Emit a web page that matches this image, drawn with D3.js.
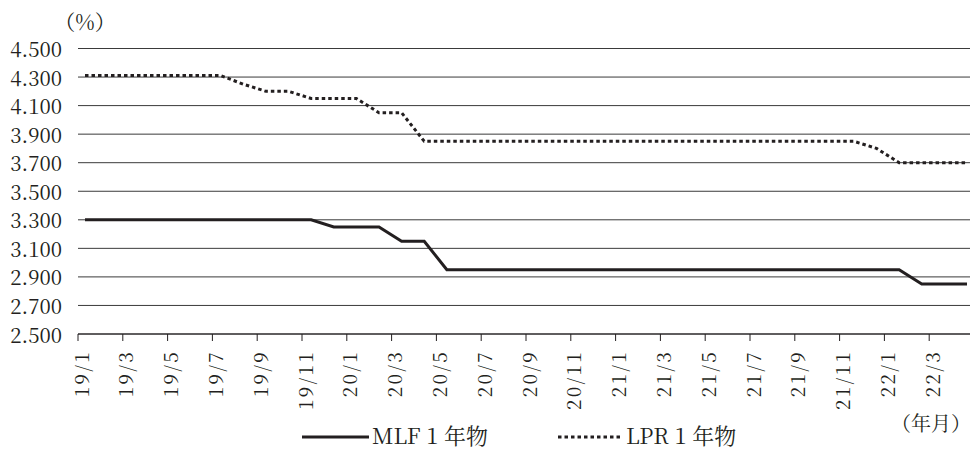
<!DOCTYPE html>
<html>
<head>
<meta charset="utf-8">
<script src="https://cdn.jsdelivr.net/npm/d3@7/dist/d3.min.js"></script>
<style>
  html, body { margin: 0; padding: 0; background: #fff; }
  svg { display: block; }
</style>
</head>
<body>
<svg id="chart" width="970" height="449"></svg>
<script>
// Monthly categories, January 2019 to April 2022
const months = [
  "19/1","19/2","19/3","19/4","19/5","19/6","19/7","19/8","19/9","19/10","19/11","19/12",
  "20/1","20/2","20/3","20/4","20/5","20/6","20/7","20/8","20/9","20/10","20/11","20/12",
  "21/1","21/2","21/3","21/4","21/5","21/6","21/7","21/8","21/9","21/10","21/11","21/12",
  "22/1","22/2","22/3","22/4"
];

// MLF 1-year rate (%)
const mlf = [
  3.30,3.30,3.30,3.30,3.30,3.30,3.30,3.30,3.30,3.30,3.30,3.25,
  3.25,3.25,3.15,3.15,2.95,2.95,2.95,2.95,2.95,2.95,2.95,2.95,
  2.95,2.95,2.95,2.95,2.95,2.95,2.95,2.95,2.95,2.95,2.95,2.95,
  2.95,2.85,2.85,2.85
];

// LPR 1-year rate (%)
const lpr = [
  4.31,4.31,4.31,4.31,4.31,4.31,4.31,4.25,4.20,4.20,4.15,4.15,
  4.15,4.05,4.05,3.85,3.85,3.85,3.85,3.85,3.85,3.85,3.85,3.85,
  3.85,3.85,3.85,3.85,3.85,3.85,3.85,3.85,3.85,3.85,3.85,3.80,
  3.70,3.70,3.70,3.70
];

// Labelled months on the x axis
const tickLabels = ["19/1","19/3","19/5","19/7","19/9","19/11","20/1","20/3","20/5","20/7",
  "20/9","20/11","21/1","21/3","21/5","21/7","21/9","21/11","22/1","22/3"];

// y axis ticks
const yTicks = [2.5,2.7,2.9,3.1,3.3,3.5,3.7,3.9,4.1,4.3,4.5];

const FONT = '"Noto Serif CJK JP", "Liberation Serif", serif';
const ink = "#231f20";
const svg = d3.select("#chart");

// Band scale for tick marks, point scale for the monthly values
const x = d3.scaleBand().domain(months).range([78, 974]);
const xp = d3.scalePoint().domain(months).range([85, 967]);
const y = d3.scaleLinear().domain([2.5, 4.5]).range([334, 48.5]);

const label = (sel) => sel.style("font-family", FONT).attr("fill", ink);

// Horizontal gridlines
svg.append("g")
  .selectAll("line")
  .data(yTicks)
  .join("line")
  .attr("x1", 78).attr("x2", 974)
  .attr("y1", d => y(d)).attr("y2", d => y(d))
  .attr("stroke", "#3a3a3a").attr("stroke-width", 1);

// y labels
const fmt = d3.format(".3f");
svg.append("g")
  .selectAll("text")
  .data(yTicks)
  .join("text")
  .call(label)
  .attr("x", 62).attr("y", d => y(d) + 8.5)
  .attr("text-anchor", "end")
  .attr("font-size", 20.5)
  .text(fmt);

// x axis with tick marks at the start of labelled months
const xAxis = svg.append("g").attr("transform", `translate(0,${y(2.5)})`);
xAxis.append("line").attr("x1", 78).attr("x2", 974).attr("stroke", ink).attr("stroke-width", 1);
xAxis.selectAll("line.tick")
  .data(tickLabels)
  .join("line")
  .attr("class", "tick")
  .attr("x1", d => x(d)).attr("x2", d => x(d))
  .attr("y1", 0).attr("y2", 7)
  .attr("stroke", ink).attr("stroke-width", 1);
xAxis.selectAll("text")
  .data(tickLabels)
  .join("text")
  .call(label)
  .attr("transform", d => `translate(${x(d) + 10.5},16) rotate(-90)`)
  .attr("text-anchor", "end")
  .attr("font-size", 19)
  .attr("letter-spacing", 2.3)
  .text(d => d);

// Series lines
const line = vals => d3.line().x((d, i) => xp(months[i])).y(d => y(d))(vals);

svg.append("path")
  .attr("d", line(lpr))
  .attr("fill", "none")
  .attr("stroke", ink)
  .attr("stroke-width", 3)
  .attr("stroke-dasharray", "3.5,3");

svg.append("path")
  .attr("d", line(mlf))
  .attr("fill", "none")
  .attr("stroke", ink)
  .attr("stroke-width", 3);

// Unit labels
svg.append("text").call(label).attr("x", 85).attr("y", 30).attr("text-anchor", "middle")
  .attr("font-size", 21).text("（%）");
svg.append("text").call(label).attr("x", 931).attr("y", 431).attr("text-anchor", "middle")
  .attr("font-size", 20).text("（年月）");

// Legend
const legend = svg.append("g");
legend.append("line").attr("x1", 302).attr("x2", 369).attr("y1", 437).attr("y2", 437)
  .attr("stroke", ink).attr("stroke-width", 3);
legend.append("text").call(label).attr("x", 372).attr("y", 443.5).attr("font-size", 22).text("MLF 1 年物");
legend.append("line").attr("x1", 558).attr("x2", 623).attr("y1", 437).attr("y2", 437)
  .attr("stroke", ink).attr("stroke-width", 3).attr("stroke-dasharray", "3.5,3");
legend.append("text").call(label).attr("x", 626).attr("y", 443.5).attr("font-size", 22).text("LPR 1 年物");
</script>
</body>
</html>
